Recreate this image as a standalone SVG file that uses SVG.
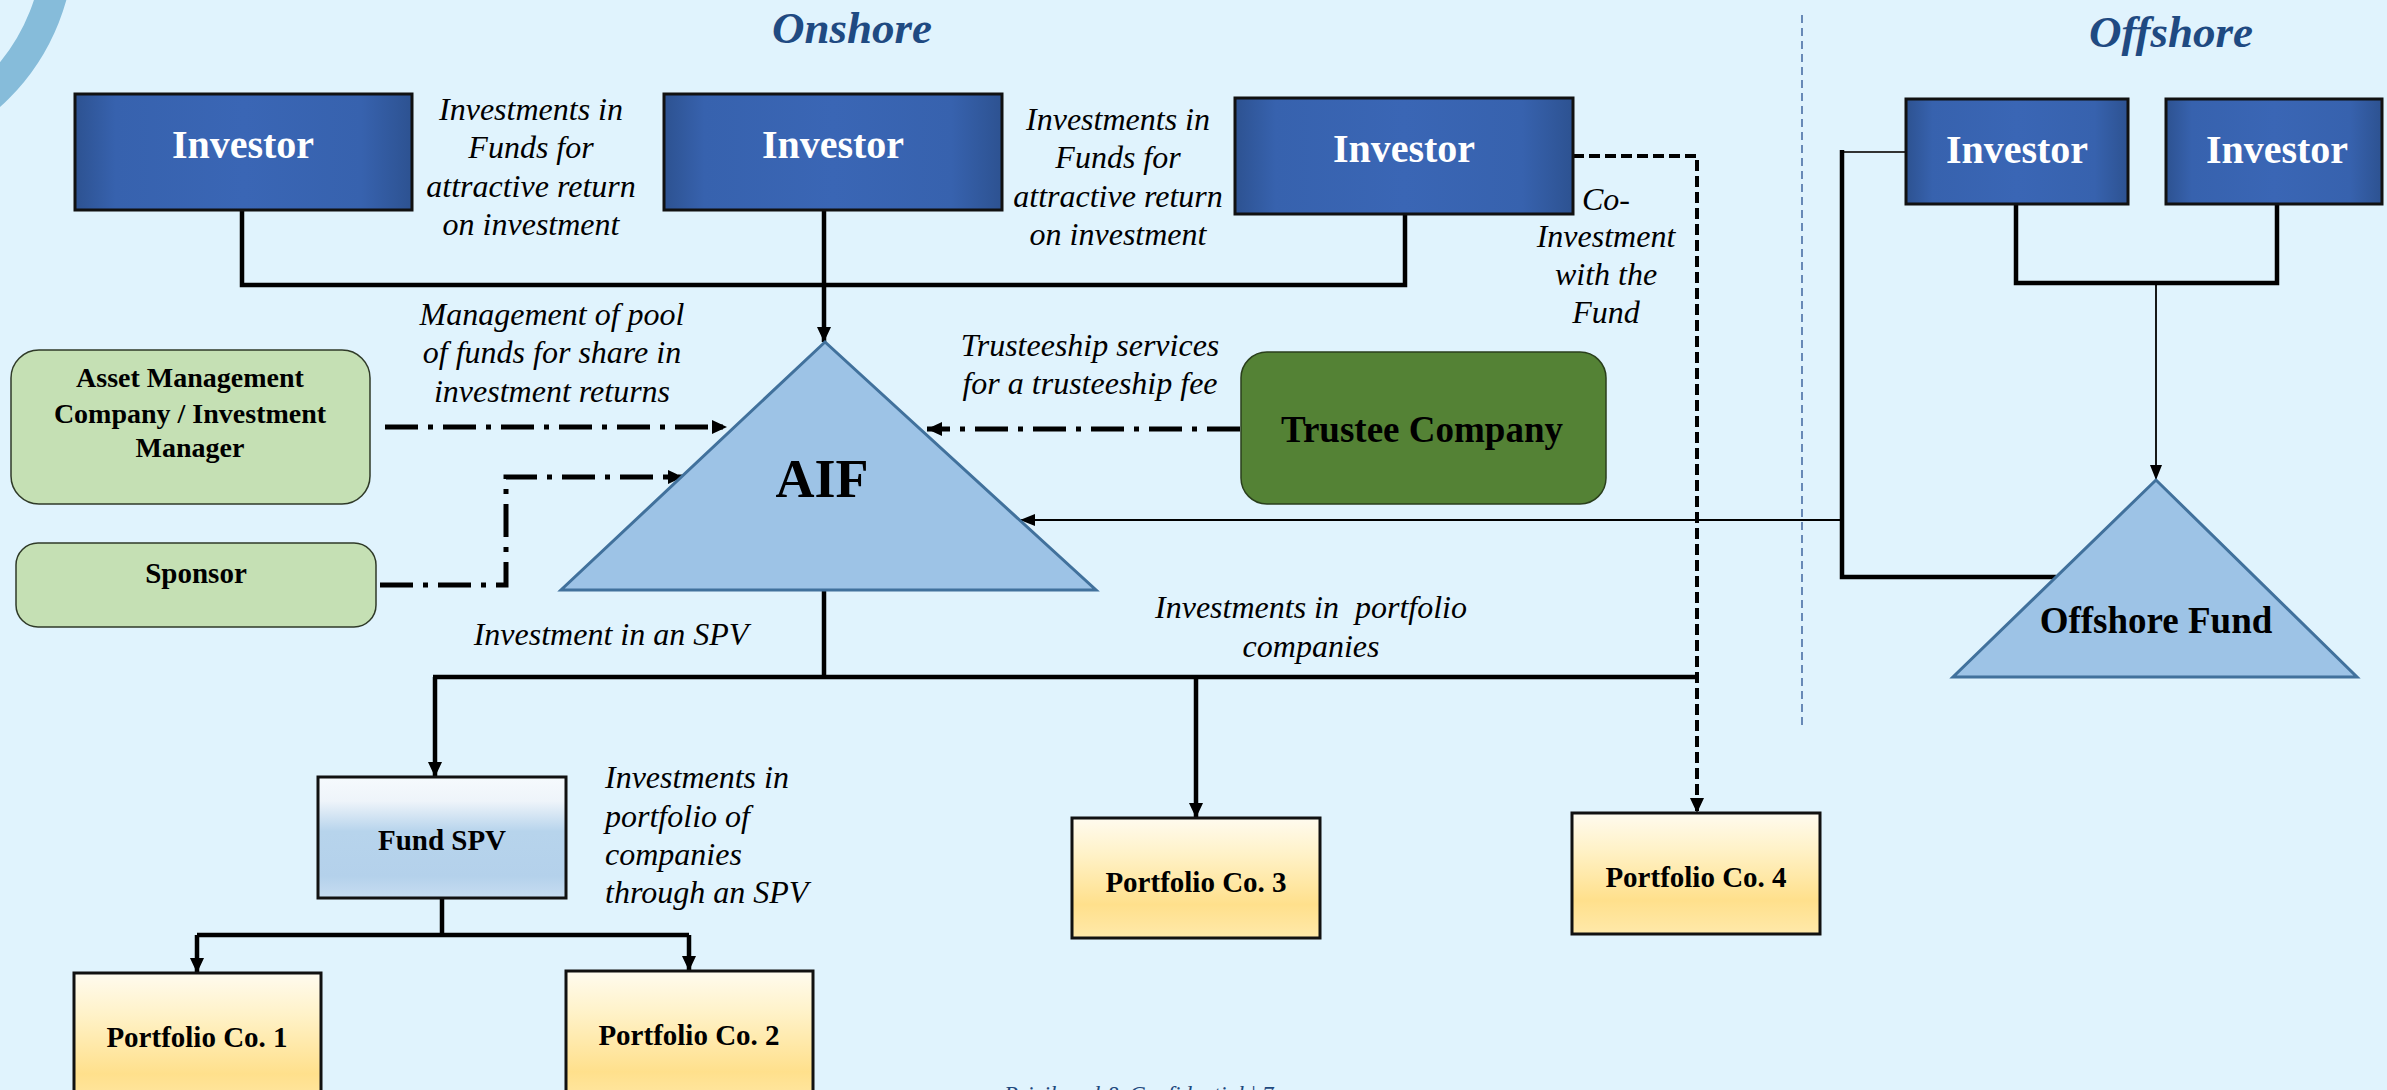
<svg xmlns="http://www.w3.org/2000/svg" width="2387" height="1090" viewBox="0 0 2387 1090">
<defs>
<linearGradient id="gInv" x1="0" y1="0" x2="1" y2="0">
<stop offset="0" stop-color="#2D5291"/><stop offset="0.12" stop-color="#3762AE"/><stop offset="0.5" stop-color="#3A66B5"/><stop offset="0.85" stop-color="#3762AE"/><stop offset="1" stop-color="#2D5291"/>
</linearGradient>
<linearGradient id="gPort" x1="0" y1="0" x2="0" y2="1">
<stop offset="0" stop-color="#FFFBEF"/><stop offset="0.3" stop-color="#FFF2C8"/><stop offset="0.72" stop-color="#FFE08C"/><stop offset="1" stop-color="#FFE9AA"/>
</linearGradient>
<linearGradient id="gSpv" x1="0" y1="0" x2="0" y2="1">
<stop offset="0" stop-color="#F6FAFD"/><stop offset="0.2" stop-color="#EEF4FA"/><stop offset="0.45" stop-color="#B7D4EC"/><stop offset="0.82" stop-color="#B4D1EB"/><stop offset="1" stop-color="#C7DDF1"/>
</linearGradient>
<marker id="arr" markerUnits="userSpaceOnUse" markerWidth="16" markerHeight="16" refX="15" refY="7" orient="auto">
<path d="M0,0 L15,7 L0,14 z" fill="#000"/>
</marker>
<marker id="arrS" markerUnits="userSpaceOnUse" markerWidth="16" markerHeight="16" refX="15" refY="7" orient="auto">
<path d="M0,1 L15,7 L0,13 z" fill="#000"/>
</marker>
<style>
.inv{fill:url(#gInv);stroke:#111;stroke-width:3}
.invt{font-family:"Liberation Serif",serif;font-weight:bold;font-size:40px;fill:#fff;text-anchor:middle}
.lbl{font-family:"Liberation Serif",serif;font-style:italic;font-size:32px;fill:#000;text-anchor:middle}
.bt{font-family:"Liberation Serif",serif;font-weight:bold;fill:#000;text-anchor:middle}
.port{fill:url(#gPort);stroke:#111;stroke-width:3}
.tri{fill:#9DC3E6;stroke:#41719C;stroke-width:3}
.ttl{font-family:"Liberation Serif",serif;font-style:italic;font-weight:bold;font-size:45px;fill:#1F4A82;text-anchor:middle}
.solid{fill:none;stroke:#000;stroke-width:4.5}
.thin{fill:none;stroke:#000;stroke-width:1.8}
.dd{fill:none;stroke:#000;stroke-width:5;stroke-dasharray:33 10 5 10}
.dash{fill:none;stroke:#000;stroke-width:4;stroke-dasharray:11 5}
</style>
</defs>
<rect x="0" y="0" width="2387" height="1090" fill="#E0F3FD"/>
<circle cx="-150" cy="-60" r="209" fill="none" stroke="#86BCDA" stroke-width="31"/>
<line x1="1802" y1="15" x2="1802" y2="730" stroke="#4A6FA5" stroke-width="1.6" stroke-dasharray="8 5"/>
<text class="ttl" x="852" y="43">Onshore</text>
<text class="ttl" x="2171" y="47">Offshore</text>

<g id="connectors">
<path class="solid" d="M242,210 V285 H1405 V214"/>
<path class="solid" d="M824,210 V342" marker-end="url(#arr)"/>
<path class="dash" d="M1573,156 H1697 V813" marker-end="url(#arr)"/>
<path class="dd" d="M385,427 H727" marker-end="url(#arr)"/>
<path class="dd" d="M380,585 H506 V477 H683" marker-end="url(#arr)"/>
<path class="dd" d="M1240,429 H927" marker-end="url(#arr)"/>
<path class="solid" d="M824,590 V677"/>
<path class="solid" d="M433,677 H1697"/>
<path class="solid" d="M435,677 V777" marker-end="url(#arr)"/>
<path class="solid" d="M1196,677 V818" marker-end="url(#arr)"/>
<path class="solid" d="M442,898 V935"/>
<path class="solid" d="M197,935 H689"/>
<path class="solid" d="M197,935 V973" marker-end="url(#arr)"/>
<path class="solid" d="M689,935 V971" marker-end="url(#arr)"/>
<path d="M1906,152 H1842" fill="none" stroke="#333" stroke-width="2"/>
<path class="solid" d="M1842,150 V577 H2056"/>
<path class="thin" d="M1842,520 H1020" marker-end="url(#arrS)"/>
<path class="solid" d="M2016,204 V283 H2277 V204"/>
<path class="thin" d="M2156,283 V480" marker-end="url(#arrS)"/>
</g>

<g id="investor1"><rect class="inv" x="75" y="94" width="337" height="116"/><text class="invt" x="243" y="158">Investor</text></g>
<g id="investor2"><rect class="inv" x="664" y="94" width="338" height="116"/><text class="invt" x="833" y="158">Investor</text></g>
<g id="investor3"><rect class="inv" x="1235" y="98" width="338" height="116"/><text class="invt" x="1404" y="162">Investor</text></g>
<g id="investor4"><rect class="inv" x="1906" y="99" width="222" height="105"/><text class="invt" x="2017" y="163">Investor</text></g>
<g id="investor5"><rect class="inv" x="2166" y="99" width="216" height="105"/><text class="invt" x="2277" y="163">Investor</text></g>

<g id="aif"><polygon class="tri" points="825,342 561,590 1096,590"/><text class="bt" x="822" y="497" font-size="54">AIF</text></g>
<g id="offshore-fund"><polygon class="tri" points="2156,480 1953,677 2357,677"/><text class="bt" x="2156" y="633" font-size="37">Offshore Fund</text></g>

<g id="amc"><rect x="11" y="350" width="359" height="154" rx="28" fill="#C5E0B4" stroke="#2F3A28" stroke-width="1.5"/>
<text class="bt" font-size="28"><tspan x="190" y="387">Asset Management</tspan><tspan x="190" y="423">Company / Investment</tspan><tspan x="190" y="457">Manager</tspan></text></g>
<g id="sponsor"><rect x="16" y="543" width="360" height="84" rx="22" fill="#C5E0B4" stroke="#2F3A28" stroke-width="1.5"/>
<text class="bt" font-size="29" x="196" y="583">Sponsor</text></g>
<g id="trustee"><rect x="1241" y="352" width="365" height="152" rx="26" fill="#548235" stroke="#2A3F1C" stroke-width="1.5"/>
<text class="bt" font-size="37" x="1422" y="442">Trustee Company</text></g>

<g id="fund-spv"><rect x="318" y="777" width="248" height="121" fill="url(#gSpv)" stroke="#111" stroke-width="3"/><text class="bt" font-size="29" x="442" y="850">Fund SPV</text></g>
<g id="portfolio1"><rect class="port" x="74" y="973" width="247" height="140"/><text class="bt" font-size="29" x="197" y="1047">Portfolio Co. 1</text></g>
<g id="portfolio2"><rect class="port" x="566" y="971" width="247" height="140"/><text class="bt" font-size="29" x="689" y="1045">Portfolio Co. 2</text></g>
<g id="portfolio3"><rect class="port" x="1072" y="818" width="248" height="120"/><text class="bt" font-size="29" x="1196" y="892">Portfolio Co. 3</text></g>
<g id="portfolio4"><rect class="port" x="1572" y="813" width="248" height="121"/><text class="bt" font-size="29" x="1696" y="887">Portfolio Co. 4</text></g>

<g id="labels">
<text class="lbl"><tspan x="531" y="120">Investments in</tspan><tspan x="531" y="158">Funds for</tspan><tspan x="531" y="197">attractive return</tspan><tspan x="531" y="235">on investment</tspan></text>
<text class="lbl"><tspan x="1118" y="130">Investments in</tspan><tspan x="1118" y="168">Funds for</tspan><tspan x="1118" y="207">attractive return</tspan><tspan x="1118" y="245">on investment</tspan></text>
<text class="lbl"><tspan x="1606" y="210">Co-</tspan><tspan x="1606" y="247">Investment</tspan><tspan x="1606" y="285">with the</tspan><tspan x="1606" y="323">Fund</tspan></text>
<text class="lbl"><tspan x="552" y="325">Management of pool</tspan><tspan x="552" y="363">of funds for share in</tspan><tspan x="552" y="402">investment returns</tspan></text>
<text class="lbl"><tspan x="1090" y="356">Trusteeship services</tspan><tspan x="1090" y="394">for a trusteeship fee</tspan></text>
<text class="lbl" x="611" y="645">Investment in an SPV</text>
<text class="lbl"><tspan x="1311" y="618">Investments in&#160; portfolio</tspan><tspan x="1311" y="657">companies</tspan></text>
<text class="lbl" style="text-anchor:start"><tspan x="605" y="788">Investments in</tspan><tspan x="605" y="827">portfolio of</tspan><tspan x="605" y="865">companies</tspan><tspan x="605" y="903">through an SPV</tspan></text>
<text x="1004" y="1102" font-family="Liberation Serif, serif" font-style="italic" font-size="23" fill="#1F497D">Privileged &amp; Confidential | 7</text>
</g>
</svg>
